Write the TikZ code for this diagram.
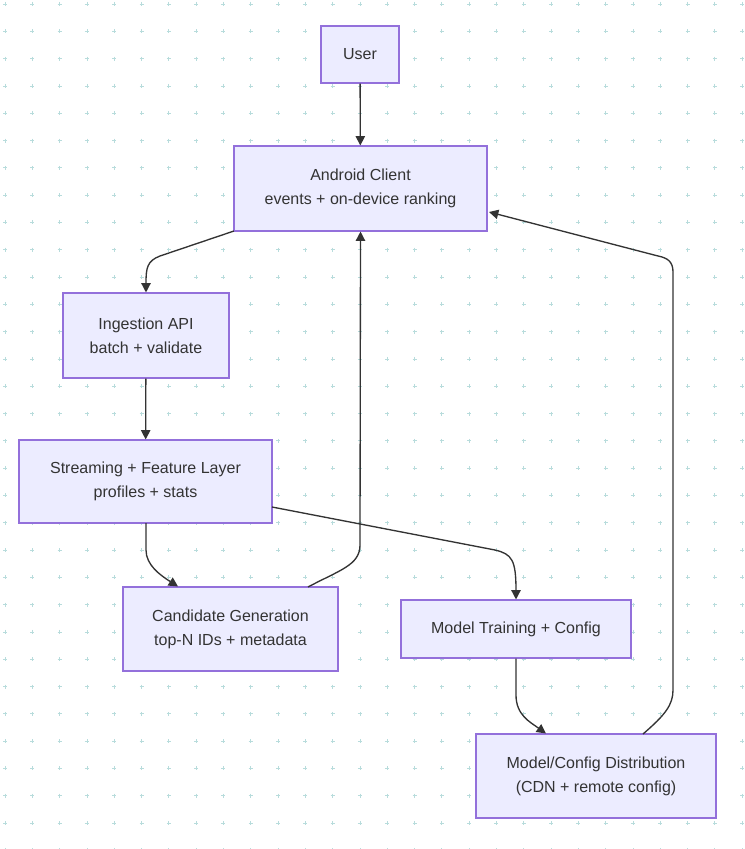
\documentclass[tikz,border=0pt]{standalone}
\usepackage{fontspec}
\setmainfont{Liberation Sans}
\usetikzlibrary{arrows.meta}
\begin{document}
\begin{tikzpicture}[x=0.75pt,y=-0.75pt,
  box/.style={draw=mermaidstroke,fill=mermaidfill,line width=0.8pt,text=textc,font=\fontsize{12}{18}\selectfont,align=center,inner sep=0pt},
  arr/.style={draw=edgec,line width=1pt,-{Triangle[length=7pt,width=7pt]}}]
\definecolor{mermaidstroke}{HTML}{9370DB}
\definecolor{mermaidfill}{HTML}{ECECFF}
\definecolor{textc}{HTML}{333333}
\definecolor{edgec}{HTML}{333333}
\definecolor{gridc}{HTML}{B8DCDC}
\useasboundingbox (0,0) rectangle (744,849);
\fill[white] (0,0) rectangle (744,849);
\foreach \i in {0,...,27} \foreach \j in {0,...,31} {
  \draw[gridc,line width=0.5pt] (5+27.3*\i-2,4+27.3*\j) -- ++(4,0) (5+27.3*\i,4+27.3*\j-2) -- ++(0,4);
}
\node[box,minimum width=78*0.75pt,minimum height=57*0.75pt] (user) at (360,54.5) {User};
\node[box,minimum width=253*0.75pt,minimum height=85*0.75pt] (android) at (360.5,188.5) {Android Client\\events + on-device ranking};
\node[box,minimum width=166*0.75pt,minimum height=85*0.75pt] (ingest) at (146,335.5) {Ingestion API\\batch + validate};
\node[box,minimum width=253*0.75pt,minimum height=83*0.75pt] (stream) at (145.5,481.5) {Streaming + Feature Layer\\profiles + stats};
\node[box,minimum width=215*0.75pt,minimum height=84*0.75pt] (cand) at (230.5,629) {Candidate Generation\\top-N IDs + metadata};
\node[box,minimum width=230*0.75pt,minimum height=58*0.75pt] (train) at (516,629) {Model Training + Config};
\node[box,minimum width=240*0.75pt,minimum height=84*0.75pt] (dist) at (596,776) {Model/Config Distribution\\(CDN + remote config)};
\coordinate (a1) at (234,231);
\coordinate (c1) at (308,587);
\coordinate (d1) at (643,734);
\coordinate (s1) at (272,507);
\draw[arr] (user) -- (android);
\draw[arr] (a1) -- (160,256) .. controls (147,261) and (146,268) .. (ingest.north);
\draw[arr] (ingest) -- (stream);
\draw[arr] (146,523) -- (146,550) .. controls (146,565) and (160,575) .. (cand.north -| 178,0);
\draw[arr] (s1) -- (495,550) .. controls (512,554) and (516,560) .. (train.north);
\draw[arr] (c1) .. controls (340,570) and (360,565) .. (360,545) -- (android.south);
\draw[arr] (train.south) -- (516,695) .. controls (516,715) and (530,722) .. (dist.north -| 546,0);
\draw[arr] (d1) .. controls (665,715) and (673,705) .. (673,690) -- (673,272) .. controls (673,262) and (668,258) .. (658,256) -- (489,212);
\end{tikzpicture}
\end{document}
